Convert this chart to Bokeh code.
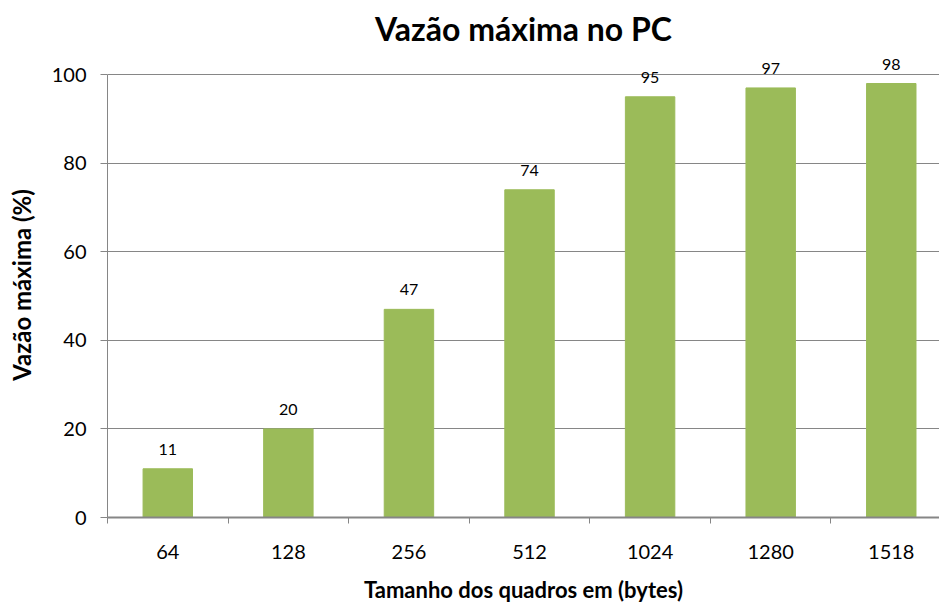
from bokeh.plotting import figure
from bokeh.models import ColumnDataSource, Range1d, FixedTicker, LabelSet
from bokeh.core.properties import value
from bokeh.embed import file_html
from bokeh.resources import INLINE

categories = ["64", "128", "256", "512", "1024", "1280", "1518"]
values = [11, 20, 47, 74, 95, 97, 98]
y_ticks = [0, 20, 40, 60, 80, 100]

FONT = "Lato"
GRAY = "#868686"

xpos = [i + 0.5 for i in range(len(categories))]
src = ColumnDataSource(dict(x=xpos, top=values, label=[str(v) for v in values]))

p = figure(width=939, height=605, output_backend="svg", toolbar_location=None,
           x_range=Range1d(0, 6.90), y_range=Range1d(0, 105),
           min_border_left=107, min_border_right=0, min_border_top=52, min_border_bottom=88)

p.title.text = "Vazão máxima no PC"
p.title.align = "center"
p.title.text_font = FONT
p.title.text_font_size = "32px"
p.title.text_font_style = "bold"
p.title.text_color = "black"
p.title.standoff = 10
p.outline_line_color = None

p.vbar(x="x", top="top", width=0.41, bottom=0, source=src, color="#9BBB59")

labels = LabelSet(x="x", y="top", text="label", source=src, text_align="center",
                  text_baseline="bottom", y_offset=14, text_font=value(FONT),
                  text_font_size=value("16px"), text_color="black")
p.add_layout(labels)

# x axis: boundary ticks as minor ticks, labels at centers
p.xaxis.ticker = FixedTicker(ticks=xpos, minor_ticks=list(range(len(categories) + 1)))
p.xaxis.major_label_overrides = {x: c for x, c in zip(xpos, categories)}
p.xaxis.major_tick_line_color = None
p.xaxis.major_tick_out = 0
p.xaxis.major_tick_in = 0
p.xaxis.minor_tick_out = 6
p.xaxis.minor_tick_in = 0
p.xaxis.minor_tick_line_color = GRAY
p.xaxis.axis_line_color = GRAY
p.xaxis.axis_line_width = 2
p.xaxis.major_label_standoff = 21
p.xaxis.major_label_text_font = FONT
p.xaxis.major_label_text_font_size = "20px"
p.xaxis.major_label_text_color = "black"
p.xaxis.axis_label = "Tamanho dos quadros em (bytes)"
p.xaxis.axis_label_text_font = FONT
p.xaxis.axis_label_text_font_size = "22px"
p.xaxis.axis_label_text_font_style = "bold"
p.xaxis.axis_label_text_color = "black"
p.xaxis.axis_label_standoff = 14

p.yaxis.ticker = FixedTicker(ticks=y_ticks, minor_ticks=[])
p.yaxis.bounds = (0, 100)
p.yaxis.major_tick_out = 7
p.yaxis.major_tick_in = 0
p.yaxis.major_tick_line_color = GRAY
p.yaxis.axis_line_color = GRAY
p.yaxis.major_label_standoff = 14
p.yaxis.major_label_text_font = FONT
p.yaxis.major_label_text_font_size = "20px"
p.yaxis.major_label_text_color = "black"
p.yaxis.axis_label = "Vazão máxima (%)"
p.yaxis.axis_label_text_font = FONT
p.yaxis.axis_label_text_font_size = "24px"
p.yaxis.axis_label_text_font_style = "bold"
p.yaxis.axis_label_text_color = "black"
p.yaxis.axis_label_standoff = 13

p.xgrid.grid_line_color = None
p.ygrid.grid_line_color = GRAY
p.ygrid.grid_line_width = 1

open("out.html", "w").write(file_html(p, INLINE))
